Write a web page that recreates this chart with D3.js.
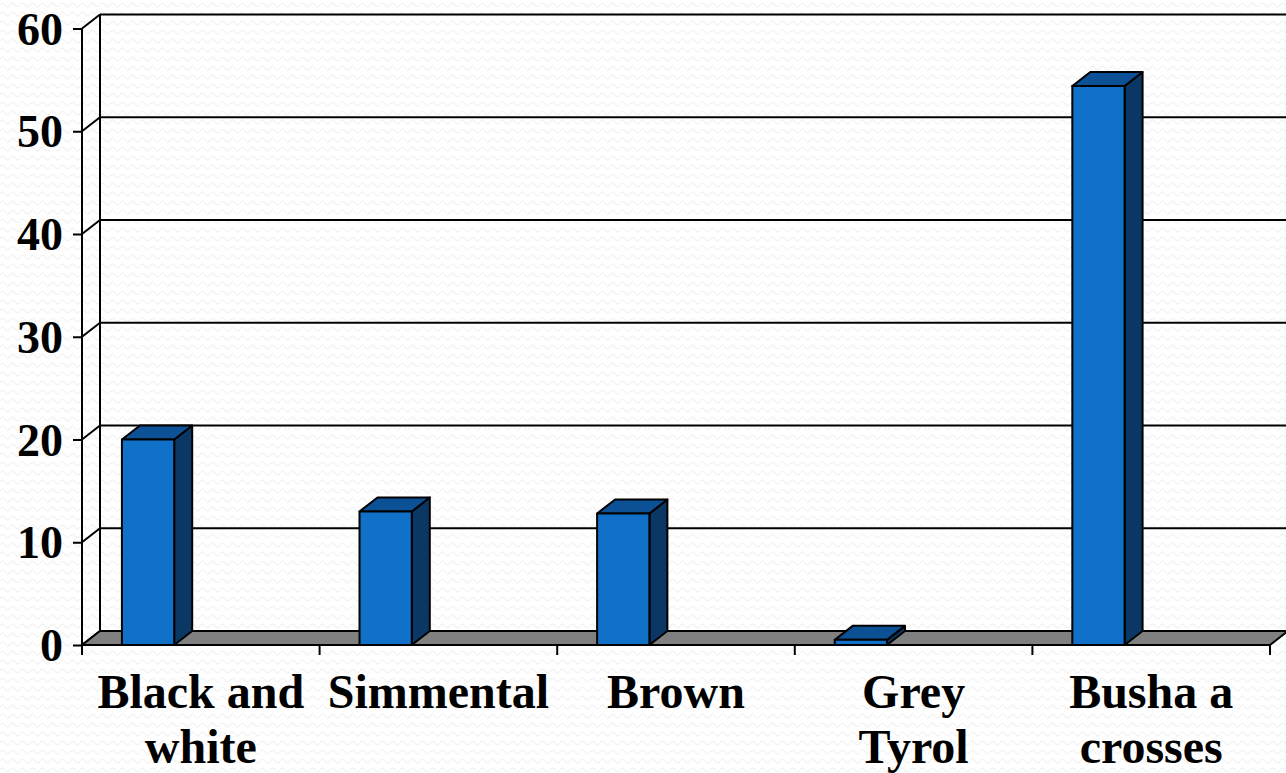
<!DOCTYPE html>
<html>
<head>
<meta charset="utf-8">
<script src="https://cdn.jsdelivr.net/npm/d3@7"></script>
<style>
  html, body { margin: 0; padding: 0; background: #ffffff; }
  svg { display: block; }
</style>
</head>
<body>
<svg id="chart" width="1286" height="773"></svg>
<script>
// Breeds and their share (%)
const categories = ["Black and white", "Simmental", "Brown", "Grey Tyrol", "Busha a crosses"];
const labelLines = [["Black and", "white"], ["Simmental"], ["Brown"], ["Grey", "Tyrol"], ["Busha a", "crosses"]];
const values = [20, 13, 12.8, 0.5, 54.4];
const yTicks = [0, 10, 20, 30, 40, 50, 60];

const W = 1286, H = 773;
const svg = d3.select("#chart");

// 3D depth offset of the back wall
const DX = 18, DY = -14;

const x = d3.scaleBand().domain(categories).range([82, 1270]).paddingInner(0).paddingOuter(0);
const y = d3.scaleLinear().domain([0, 60]).range([645, 28.5]);

// faint wavy texture over the whole slide
const defs = svg.append("defs");
const pat = defs.append("pattern")
  .attr("id", "wave").attr("patternUnits", "userSpaceOnUse")
  .attr("width", 10).attr("height", 9);
pat.append("path")
  .attr("d", "M0,5 Q2.5,1 5,5 T10,5")
  .attr("fill", "none").attr("stroke", "#f1f1f1").attr("stroke-width", 1.2);
svg.append("rect").attr("width", W).attr("height", H).attr("fill", "#ffffff");
svg.append("rect").attr("width", W).attr("height", H).attr("fill", "url(#wave)");

const x0 = x.range()[0], x1 = x.range()[1];
const bw = x.bandwidth();

// back wall gridlines and side wall diagonals
const grid = svg.append("g").attr("stroke", "#000").attr("stroke-width", 2).attr("fill", "none");
yTicks.forEach(t => {
  if (t > 0) {
    grid.append("line")
      .attr("x1", x0 + DX).attr("x2", x1 + DX)
      .attr("y1", y(t) + DY).attr("y2", y(t) + DY);
  }
  grid.append("line")
    .attr("x1", x0).attr("y1", y(t))
    .attr("x2", x0 + DX).attr("y2", y(t) + DY);
});
// back wall left edge
grid.append("line")
  .attr("x1", x0 + DX).attr("x2", x0 + DX)
  .attr("y1", y(60) + DY).attr("y2", y(0) + DY);

// floor
svg.append("path")
  .attr("d", `M${x0},${y(0)} L${x1},${y(0)} L${x1 + DX},${y(0) + DY} L${x0 + DX},${y(0) + DY} Z`)
  .attr("fill", "#808080").attr("stroke", "#000").attr("stroke-width", 2)
  .attr("stroke-linejoin", "miter");

// bars
const barOff = bw * 0.168, barW = bw * 0.22;
const bars = svg.append("g").attr("stroke", "#000").attr("stroke-width", 2).attr("stroke-linejoin", "round");
categories.forEach((c, i) => {
  const bx = x(c) + barOff, by = y(values[i]), bb = y(0);
  // right side
  bars.append("path")
    .attr("d", `M${bx + barW},${by} L${bx + barW + DX},${by + DY} L${bx + barW + DX},${bb + DY} L${bx + barW},${bb} Z`)
    .attr("fill", "#0b3764");
  // top
  bars.append("path")
    .attr("d", `M${bx},${by} L${bx + DX},${by + DY} L${bx + barW + DX},${by + DY} L${bx + barW},${by} Z`)
    .attr("fill", "#0c5196");
  // front
  bars.append("rect")
    .attr("x", bx).attr("y", by).attr("width", barW).attr("height", bb - by)
    .attr("fill", "#1170c8");
});

// value axis
const yAxis = svg.append("g").attr("transform", `translate(${x0},0)`)
  .call(d3.axisLeft(y).tickValues(yTicks).tickSize(9).tickPadding(10).tickFormat(d3.format("d")));
yAxis.select(".domain").remove();
yAxis.selectAll(".tick line").attr("stroke", "#000").attr("stroke-width", 2);
yAxis.selectAll(".tick text")
  .attr("font-family", "'Liberation Serif', 'Times New Roman', serif")
  .attr("font-weight", "bold").attr("font-size", 46).attr("fill", "#000")
  .attr("dy", "0.34em");
svg.append("line")
  .attr("x1", x0).attr("x2", x0).attr("y1", y(60)).attr("y2", y(0) + 10)
  .attr("stroke", "#000").attr("stroke-width", 2);

// category axis ticks at band boundaries
const bounds = categories.map(c => x(c)).concat([x1]);
svg.append("g").selectAll("line").data(bounds).join("line")
  .attr("x1", d => d).attr("x2", d => d)
  .attr("y1", y(0)).attr("y2", y(0) + 10)
  .attr("stroke", "#000").attr("stroke-width", 2);

// category labels
const lab = svg.append("g")
  .attr("font-family", "'Liberation Serif', 'Times New Roman', serif")
  .attr("font-weight", "bold").attr("font-size", 48).attr("fill", "#000")
  .attr("text-anchor", "middle");
categories.forEach((c, i) => {
  const t = lab.append("text").attr("x", x(c) + bw / 2).attr("y", 708);
  labelLines[i].forEach((ln, j) => {
    t.append("tspan").attr("x", x(c) + bw / 2).attr("y", 708 + j * 55).text(ln);
  });
});
</script>
</body>
</html>
